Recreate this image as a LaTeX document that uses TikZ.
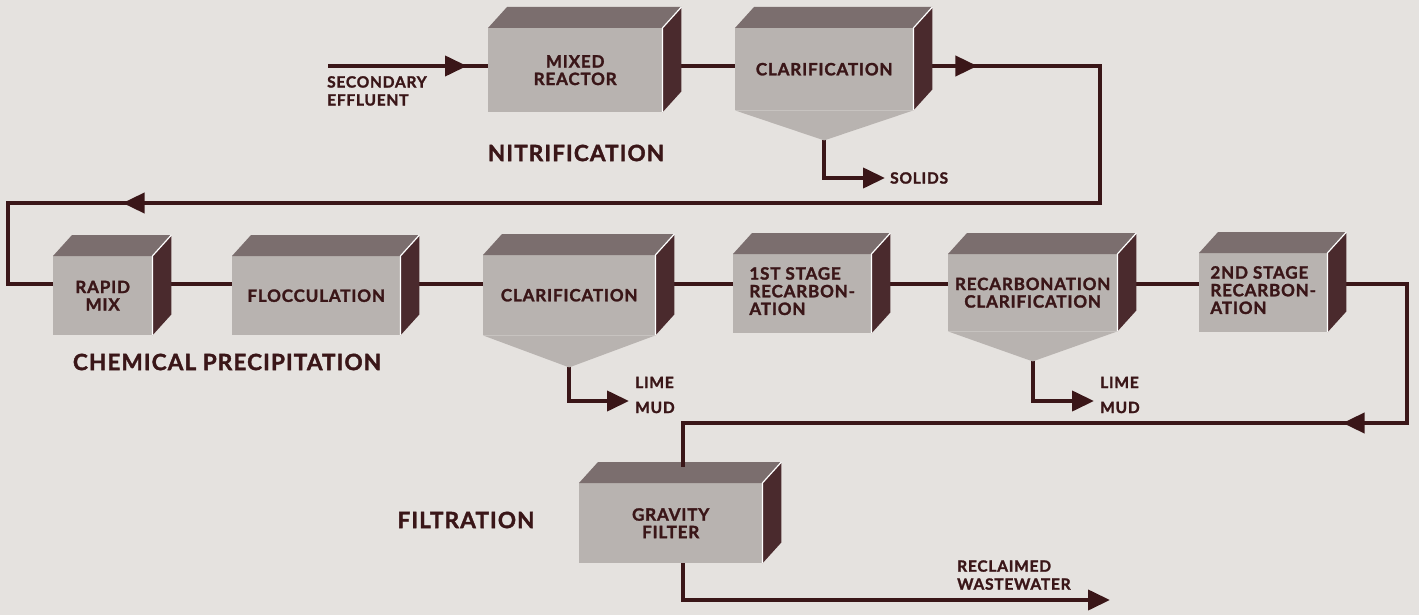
\documentclass[tikz,border=0pt]{standalone}
\usepackage{fontspec}
\setmainfont{Lato}[LetterSpace=5, BoldFeatures={FakeBold=1.6}]
\usepackage{tikz}
\usetikzlibrary{arrows.meta, decorations.markings, calc, backgrounds, positioning}
\definecolor{paper}{HTML}{E5E2DF}
\definecolor{ink}{HTML}{3A1618}
\definecolor{front}{HTML}{B8B3B0}
\definecolor{topside}{HTML}{7B6E6E}
\definecolor{side}{HTML}{4A2A2D}
\newcommand{\boxfont}{\fontsize{17}{17.5}\selectfont\bfseries}
\newcommand{\lblfont}{\fontsize{15.5}{18}\selectfont\bfseries}
\newcommand{\stagefont}{\fontsize{22.5}{24}\selectfont\bfseries}
% tank: name, x, y, width, height, label
\newcommand{\tank}[6]{%
\node[unit, minimum width=#4pt, minimum height=#5pt] (#1) at (#2,#3) {#6};
\fill[topside] (#1.north west) -- ++(19pt,21pt) -- ([shift={(19pt,21pt)}]#1.north east) -- (#1.north east) -- cycle;
\fill[side] (#1.north east) -- ([shift={(19pt,21pt)}]#1.north east) -- ([shift={(19pt,21pt)}]#1.south east) -- (#1.south east) -- cycle;
\draw[white, line width=1.2pt] (#1.south east) -- (#1.north east) -- ++(19pt,21pt);
}
% hopper: name, x, y, width, height, depth, label
\newcommand{\hopper}[7]{%
\tank{#1}{#2}{#3}{#4}{#5}{#7}
\fill[front] (#1.south west) -- ([yshift=-#6pt]#1.south) coordinate (#1-bot) -- (#1.south east) -- cycle;
}
\tikzset{flowtip/.tip={Triangle[length=22pt,width=20pt]}}

\begin{document}
\begin{tikzpicture}[x=1pt, y=-1pt,
  unit/.style={fill=front, inner sep=0pt, anchor=north west, align=center, text=ink, font=\boxfont},
  flow/.style={draw=ink, color=ink, line width=4pt},
  midtip/.style={postaction={decorate, decoration={markings, mark=at position #1 with {\arrow{flowtip}}}}},
  lbl/.style={text=ink, font=\lblfont, align=left, inner sep=0pt},
  stagelbl/.style={text=ink, font=\stagefont, inner sep=0pt}]
\useasboundingbox (0,0) rectangle (1419,615);

\coordinate (toprow) at (0,66);
\coordinate (row) at (0,284);
\coordinate (in) at (328,66);
\coordinate (turnA) at (1100,203);
\coordinate (turnB) at (8,203);
\coordinate (turnC) at (1407,423);
\coordinate (turnD) at (683,423);
\coordinate (gfin) at (683,467);
\coordinate (out) at (1110,600);

% nitrification
\tank{mixr}{488}{28}{174}{84}{MIXED\\REACTOR}
\hopper{clar1}{735}{28}{178}{82}{30}{CLARIFICATION}
\node[lbl, anchor=north west] (effl) at (327,76) {SECONDARY\\EFFLUENT};
\node[lbl, anchor=west] (solids) at (890,178) {SOLIDS};
\node[stagelbl] (nitr) at (576,153) {NITRIFICATION};

% chemical precipitation
\tank{rapid}{53}{256}{99}{79}{RAPID\\MIX}
\tank{floc}{232}{256}{168}{79}{FLOCCULATION}
\hopper{clar2}{483}{255}{172}{80}{32}{CLARIFICATION}
\tank{stage1}{733}{254}{138}{79}{\begin{tabular}{@{}l@{}}1ST STAGE\\RECARBON-\\ATION\end{tabular}}
\hopper{rclar}{948}{254}{169}{77}{30}{RECARBONATION\\CLARIFICATION}
\tank{stage2}{1199}{253}{128}{79}{\begin{tabular}{@{}l@{}}2ND STAGE\\RECARBON-\\ATION\end{tabular}}
\node[lbl, anchor=west, font=\fontsize{15.5}{25}\selectfont\bfseries] (lime1) at (635,395) {LIME\\MUD};
\node[lbl, anchor=west, font=\fontsize{15.5}{25}\selectfont\bfseries] (lime2) at (1100,395) {LIME\\MUD};
\node[stagelbl] (chem) at (227,362) {CHEMICAL PRECIPITATION};

% filtration
\tank{gf}{579}{483}{183}{80}{GRAVITY\\FILTER}
\node[stagelbl] (filt) at (466,520) {FILTRATION};
\node[lbl, anchor=south west] (recl) at (957,590) {RECLAIMED\\WASTEWATER};

\draw[flow] (turnD) -- (gfin);

\begin{scope}[on background layer]
\fill[paper] (0,0) rectangle (1419,615);
\draw[flow, midtip=139pt] (in) -- (mixr.west |- toprow);
\draw[flow] (mixr.east |- toprow) -- (clar1.west |- toprow);
\draw[flow, midtip=64pt, midtip=1301pt] (clar1.east |- toprow) -| (turnA) -- (turnB) |- (rapid.west |- row);
\foreach \a/\b in {rapid/floc, floc/clar2, clar2/stage1, stage1/rclar, rclar/stage2}
  \draw[flow] (\a.east |- row) -- (\b.west |- row);
\draw[flow, midtip=283pt] (stage2.east |- row) -| (turnC) -- (turnD) -- (gf.north -| turnD);
\draw[flow, -flowtip] (clar1-bot) |- ([xshift=-5pt]solids.west);
\draw[flow, -flowtip] (clar2-bot) |- ([shift={(-6pt,-6pt)}]lime1.west);
\draw[flow, -flowtip] (rclar-bot) |- ([shift={(-6pt,-6pt)}]lime2.west);
\draw[flow, -flowtip] (gf.south -| turnD) |- (out);
\end{scope}
\end{tikzpicture}
\end{document}
